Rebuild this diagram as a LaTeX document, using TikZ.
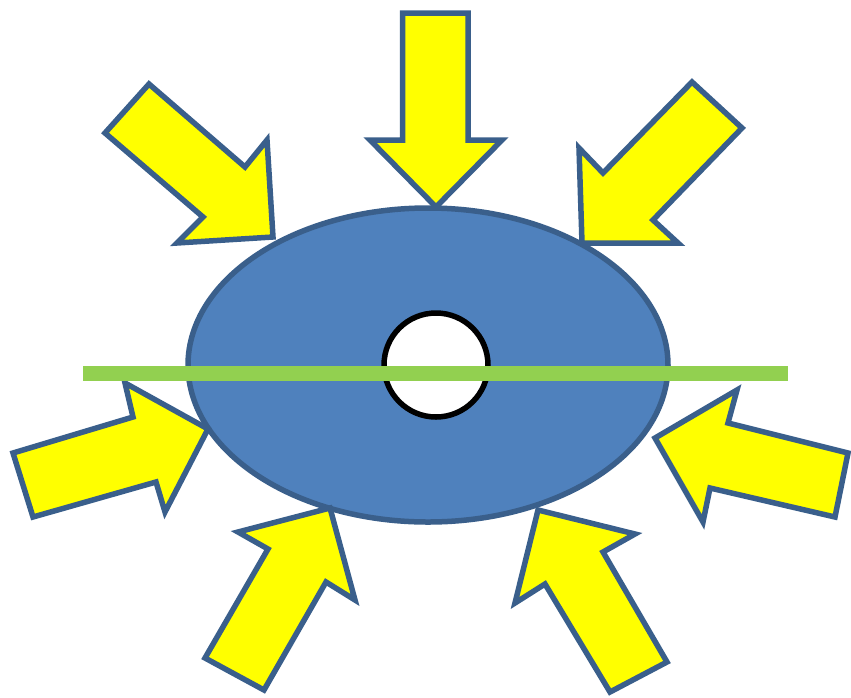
\documentclass[tikz,border=0pt]{standalone}
\usepackage{tikz}
\definecolor{edgeblue}{HTML}{3A5F8B}
\definecolor{fillblue}{HTML}{4F81BD}
\definecolor{arrowyellow}{HTML}{FFFF00}
\definecolor{linegreen}{HTML}{92D050}
\tikzset{
  blockarrow/.style={draw=edgeblue, fill=arrowyellow, line width=5.5pt, line join=miter},
  body/.style={draw=edgeblue, fill=fillblue, line width=5.5pt},
  hole/.style={draw=black, fill=white, line width=5.5pt},
  axisline/.style={draw=linegreen, line width=15pt}
}
\begin{document}
\begin{tikzpicture}[x=1pt,y=-1pt]
\useasboundingbox (0,0) rectangle (851,697);
% body
\path[body] (428,365) ellipse [x radius=240, y radius=157];
% arrows
\path[blockarrow] (402.5,13) -- (468,13) -- (468,140) -- (502,140) -- (436,207) -- (370,140) -- (402.5,140) -- cycle;
\path[blockarrow] (105,133) -- (149,84) -- (245,167) -- (267,140) -- (273,237) -- (177,243) -- (203,217) -- cycle;
\path[blockarrow] (692,82) -- (742,128) -- (653,220) -- (678,243) -- (582,243) -- (579,148) -- (603,173) -- cycle;
\path[blockarrow] (13,453) -- (133,417) -- (125,383) -- (208,429) -- (165,512) -- (156,482) -- (33,517) -- cycle;
\path[blockarrow] (737,390) -- (728,423) -- (848,453) -- (835,517) -- (710,488) -- (703,522) -- (655,438) -- cycle;
\path[blockarrow] (330,508) -- (355,600) -- (326,582) -- (264,690) -- (205,658) -- (268,549) -- (238,532) -- cycle;
\path[blockarrow] (538,510) -- (635,534) -- (603,552) -- (667,662) -- (610,692) -- (545,584) -- (515,603) -- cycle;
% hole
\path[hole] (436,365) circle [radius=52];
% green line
\path[axisline] (83,373) -- (788,373);
\end{tikzpicture}
\end{document}
